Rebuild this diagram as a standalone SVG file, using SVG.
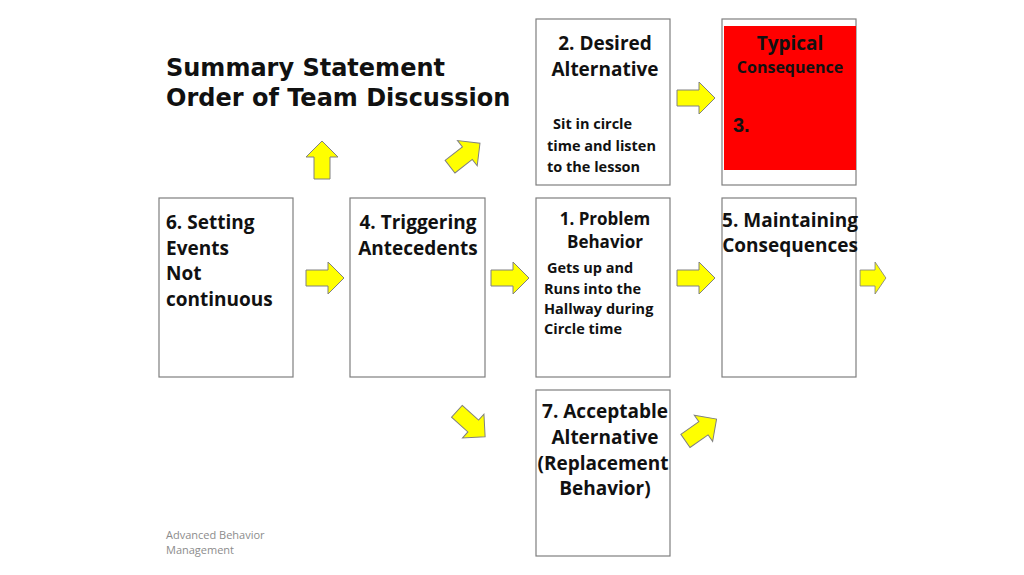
<svg xmlns="http://www.w3.org/2000/svg" width="1024" height="575" viewBox="0 0 1024 575">
<style>
.box{fill:#fff;stroke:#7f7f7f;stroke-width:1.2}
.t{font-family:"Open Sans","Liberation Sans",sans-serif;font-weight:bold;fill:#111}
.arr{fill:#ffff00;stroke:#808080;stroke-width:1}
</style>
<defs><path id="a" d="M-19,-8 H3 V-16 L19,0 L3,16 V8 H-19 Z"/></defs>
<rect width="1024" height="575" fill="#fff"/>
<text class="t" font-family="DejaVu Sans" font-size="24" x="166" y="76" style="font-family:'DejaVu Sans',sans-serif">Summary Statement</text>
<text class="t" font-size="24" x="166" y="106" style="font-family:'DejaVu Sans',sans-serif">Order of  Team Discussion</text>
<g id="n6"><rect class="box" x="159" y="198" width="134" height="179"/>
<text class="t" font-size="19" x="166"><tspan x="166" y="229">6. Setting</tspan><tspan x="166" y="255">Events</tspan><tspan x="166" y="280">Not</tspan><tspan x="166" y="306">continuous</tspan></text></g>
<g id="n4"><rect class="box" x="350" y="198" width="135" height="179"/>
<text class="t" font-size="19" text-anchor="middle"><tspan x="418" y="229">4. Triggering</tspan><tspan x="418" y="255">Antecedents</tspan></text></g>
<g id="n1"><rect class="box" x="536" y="198" width="134" height="179"/>
<text class="t" font-size="17" text-anchor="middle"><tspan x="605" y="225">1. Problem</tspan><tspan x="605" y="248">Behavior</tspan></text>
<text class="t" font-size="14.5"><tspan x="547" y="273">Gets up and</tspan><tspan x="544" y="294">Runs into the</tspan><tspan x="544" y="314">Hallway during</tspan><tspan x="544" y="334">Circle time</tspan></text></g>
<g id="n5"><rect class="box" x="722" y="198" width="134" height="179"/>
<text class="t" font-size="19" text-anchor="middle"><tspan x="790" y="227">5. Maintaining</tspan><tspan x="790" y="252">Consequences</tspan></text></g>
<g id="n2"><rect class="box" x="536" y="19" width="134" height="166"/>
<text class="t" font-size="19" text-anchor="middle"><tspan x="605" y="50">2. Desired</tspan><tspan x="605" y="76">Alternative</tspan></text>
<text class="t" font-size="14.5"><tspan x="553" y="129">Sit in circle</tspan><tspan x="547" y="151">time and listen</tspan><tspan x="547" y="172">to the lesson</tspan></text></g>
<g id="n3"><rect class="box" x="722" y="19" width="134" height="166"/>
<rect x="724" y="26" width="132" height="144" fill="#ff0000"/>
<text class="t" font-size="19" text-anchor="middle" x="790" y="50">Typical</text>
<text class="t" font-size="16" text-anchor="middle" x="790" y="73">Consequence</text>
<text font-family="Liberation Sans,sans-serif" font-weight="bold" font-size="20" x="733" y="132" fill="#111">3.</text></g>
<g id="n7"><rect class="box" x="536" y="390" width="134" height="166"/>
<text class="t" font-size="19" text-anchor="middle"><tspan x="605" y="418">7. Acceptable</tspan><tspan x="605" y="444">Alternative</tspan><tspan x="603" y="470">(Replacement</tspan><tspan x="605" y="495">Behavior)</tspan></text></g>
<g id="connectors">
<use href="#a" class="arr" transform="translate(322,160) rotate(-90)"/>
<use href="#a" class="arr" transform="translate(465,155) rotate(-38)"/>
<use href="#a" class="arr" transform="translate(696,98)"/>
<use href="#a" class="arr" transform="translate(325,278)"/>
<use href="#a" class="arr" transform="translate(510,278)"/>
<use href="#a" class="arr" transform="translate(696,278)"/>
<use href="#a" class="arr" transform="translate(873,278) scale(0.68,1)"/>
<use href="#a" class="arr" transform="translate(471,424) rotate(42)"/>
<use href="#a" class="arr" transform="translate(701,430) rotate(-35)"/>
</g>
<text font-family="Open Sans,sans-serif" font-size="11" fill="#8c8c8c"><tspan x="166" y="539">Advanced Behavior</tspan><tspan x="166" y="554">Management</tspan></text>
</svg>
